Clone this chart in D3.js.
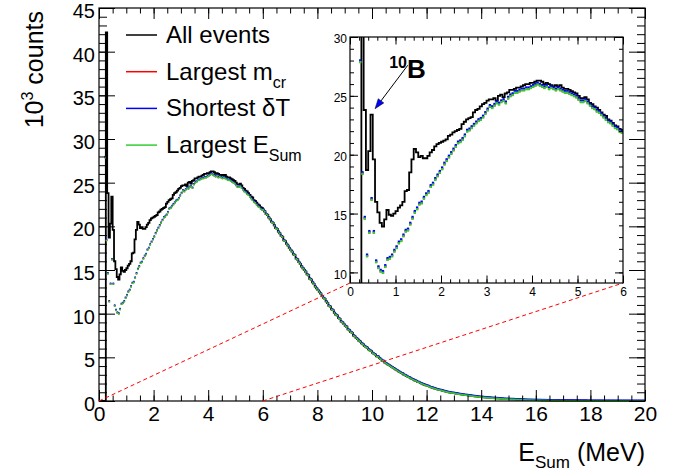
<!DOCTYPE html>
<html>
<head>
<meta charset="utf-8">
<script src="https://cdn.jsdelivr.net/npm/d3@7/dist/d3.min.js"></script>
<style>
  body { margin: 0; background: #fff; }
  text { font-family: "Liberation Sans", Arial, Helvetica, sans-serif; }
</style>
</head>
<body>
<svg id="chart" width="680" height="472"></svg>
<script>
// bins of 0.05 MeV from 0 to 20 MeV, values in 10^3 counts
var binWidth = 0.05;

var allEvents = [
  0,0,0,0,0, 42.2,23.8,18.7,20.3,23.4, 19.6,16.0,15.1,14.2,13.9, 14.5,15.3,14.9,14.8,15.0,
  15.2,15.5,15.7,16.0,16.9, 17.0,18.5,19.6,20.5,20.2, 19.8,19.9,19.7,19.7,19.9, 20.2,20.4,20.7,20.9,21.0,
  21.1,21.2,21.3,21.6,21.7, 21.9,22.0,22.1,22.2,22.6, 22.8,23.0,23.1,23.2,23.6, 23.8,23.9,24.1,24.3,24.4,
  24.6,24.7,24.7,24.8,24.6, 25.0,25.1,24.9,25.2,25.3, 25.5,25.5,25.6,25.7,25.7, 25.8,25.9,26.0,26.0,26.1,
  26.1,26.2,26.3,26.3,26.2, 26.0,26.1,26.0,25.9,25.8, 25.9,25.8,25.9,25.7,25.6, 25.6,25.5,25.4,25.3,25.2,
  25.0,24.8,24.8,24.9,24.7, 24.4,24.3,24.1,24.0,23.8, 23.6,23.4,23.3,23.0,22.9, 22.7,22.5,22.4,22.2,22.1,
  21.9,21.7,21.4,21.3,21.0, 20.8,20.5,20.4,20.1,19.8, 19.7,19.4,19.2,18.9,18.8, 18.4,18.3,18.0,17.8,17.5,
  17.3,17.1,16.8,16.7,16.3, 16.2,15.9,15.7,15.4,15.2, 15.0,14.8,14.5,14.4,14.0, 13.9,13.6,13.4,13.1,12.9,
  12.7,12.5,12.3,12.0,11.8, 11.7,11.4,11.2,10.9,10.8, 10.5,10.4,10.1,9.9,9.8, 9.5,9.4,9.1,9.0,8.8,
  8.6,8.5,8.2,8.1,7.9, 7.8,7.5,7.4,7.2,7.1, 6.9,6.8,6.6,6.5,6.3, 6.2,6.1,5.9,5.8,5.7,
  5.5,5.4,5.3,5.1,5.1, 4.9,4.8,4.6,4.6,4.4, 4.3,4.2,4.1,4.0,3.9, 3.8,3.7,3.6,3.5,3.4,
  3.3,3.2,3.15,3.0,2.95, 2.85,2.75,2.7,2.6,2.5, 2.45,2.35,2.3,2.2,2.15, 2.05,2.0,1.92,1.86,1.8,
  1.75,1.7,1.62,1.56,1.52, 1.45,1.41,1.35,1.31,1.28, 1.24,1.2,1.15,1.11,1.07, 1.03,1.0,0.97,0.94,0.92,
  0.9,0.86,0.84,0.81,0.78, 0.76,0.73,0.71,0.69,0.67, 0.65,0.63,0.61,0.58,0.56, 0.54,0.52,0.5,0.48,0.47,
  0.45,0.44,0.42,0.41,0.39, 0.38,0.37,0.35,0.34,0.33, 0.32,0.31,0.3,0.29,0.27, 0.26,0.25,0.24,0.23,0.23,
  0.22,0.21,0.2,0.2,0.19, 0.18,0.17,0.17,0.16,0.15, 0.15,0.14,0.14,0.13,0.12, 0.12,0.11,0.11,0.1,0.1,
  0.1,0.09,0.09,0.09,0.08, 0.08,0.08,0.07,0.07,0.07, 0.07,0.06,0.06,0.06,0.06, 0.05,0.05,0.05,0.05,0.05,
  0.05,0.05,0.04,0.04,0.04, 0.04,0.04,0.04,0.035,0.035, 0.035,0.03,0.03,0.03,0.03, 0.03,0.03,0.025,0.025,0.025,
  0.025,0.02,0.02,0.02,0.02, 0.02,0.02,0.02,0.018,0.018, 0.016,0.016,0.015,0.015,0.014, 0.014,0.013,0.013,0.012,0.012,
  0.012,0.011,0.011,0.01,0.01, 0.01,0.01,0.009,0.009,0.009, 0.008,0.008,0.008,0.007,0.007, 0.007,0.006,0.006,0.006,0.005
];

// selected pair (m_cr / deltaT / E_Sum give the same spectrum), 0-6 MeV
var selectedLow = [
  null,null,null,null,27.9, 18.4,14.6,11.4,13.4,16.2, 13.4,10.9,10.4,10.1,10.0, 10.5,11.1,11.2,11.4,11.8,
  12.1,12.5,12.7,13.1,13.5, 13.6,14.1,14.6,15.1,15.4, 15.8,15.9,16.3,16.6,16.8, 17.3,17.5,17.9,18.2,18.5,
  18.8,19.2,19.5,19.8,20.1, 20.4,20.7,21.0,21.1,21.3, 21.6,22.0,22.1,22.3,22.5, 22.7,22.9,23.0,23.2,23.5,
  23.8,24.1,24.0,24.2,24.4, 24.3,24.5,24.6,24.4,24.8, 25.0,25.1,25.3,25.3,25.4, 25.5,25.5,25.6,25.6,25.7,
  25.8,25.9,26.0,25.9,25.8, 25.7,25.8,25.6,25.7,25.6, 25.5,25.6,25.5,25.4,25.3, 25.3,25.2,25.1,25.0,24.9,
  24.7,24.5,24.5,24.6,24.4, 24.2,24.0,23.9,23.7,23.6, 23.4,23.2,23.0,22.8,22.7, 22.5,22.3,22.2,22.0,21.9
];
// above 6 MeV the selections lie on top of the all-events histogram
var selected = selectedLow.concat(allEvents.slice(selectedLow.length));

var xMajor = [0,2,4,6,8,10,12,14,16,18,20];
var yMajor = [0,5,10,15,20,25,30,35,40,45];
var insetXMajor = [0,1,2,3,4,5,6];
var insetYMajor = [10,15,20,25,30];

var legendNames = ["All events", "Largest m", "Shortest \u03b4T", "Largest E"];
var legendSubs = ["", "cr", "", "Sum"];
var legendColors = ["#000000", "#ff0000", "#0000ff", "#33cc33"];

var svg = d3.select("#chart");

var x = d3.scaleLinear().domain([0, 20]).range([99, 645]);
var y = d3.scaleLinear().domain([0, 45]).range([401, 8]);
var ix = d3.scaleLinear().domain([0, 6]).range([350, 623]);
var iy = d3.scaleLinear().domain([9.1, 30]).range([283, 37]);

function histPoints(vals, n) {
  var pts = [];
  for (var k = 0; k < n; k++) pts.push([k * binWidth, vals[k]]);
  pts.push([n * binWidth, vals[n - 1]]);
  return pts;
}

function drawFrame(g, sx, sy, major, minor, xMaj, xMin, yMaj, yMin, fontX, fontY, xPad, yPad) {
  var x0 = sx.range()[0], x1 = sx.range()[1], y0 = sy.range()[0], y1 = sy.range()[1];
  function style(fs) {
    return function(a) {
      a.select(".domain").remove();
      a.selectAll("line").attr("stroke", "#000").attr("stroke-width", 1);
      a.selectAll("text").attr("font-size", fs).attr("font-family", null).attr("fill", "#000");
    };
  }
  g.append("g").attr("transform", "translate(0," + y0 + ")")
    .call(d3.axisBottom(sx).tickValues(xMin).tickSize(-minor[0]).tickFormat("")).call(style(fontX));
  g.append("g").attr("transform", "translate(0," + y0 + ")")
    .call(d3.axisBottom(sx).tickValues(xMaj).tickSize(-major[0]).tickPadding(xPad).tickFormat(d3.format("d"))).call(style(fontX));
  g.append("g").attr("transform", "translate(0," + y1 + ")")
    .call(d3.axisTop(sx).tickValues(xMin).tickSize(-minor[0]).tickFormat("")).call(style(fontX));
  g.append("g").attr("transform", "translate(0," + y1 + ")")
    .call(d3.axisTop(sx).tickValues(xMaj).tickSize(-major[0]).tickFormat("")).call(style(fontX));
  g.append("g").attr("transform", "translate(" + x0 + ",0)")
    .call(d3.axisLeft(sy).tickValues(yMin).tickSize(-minor[1]).tickFormat("")).call(style(fontY));
  g.append("g").attr("transform", "translate(" + x0 + ",0)")
    .call(d3.axisLeft(sy).tickValues(yMaj).tickSize(-major[1]).tickPadding(yPad).tickFormat(d3.format("d"))).call(style(fontY))
    .selectAll("text").attr("dy", "0.48em");
  g.append("g").attr("transform", "translate(" + x1 + ",0)")
    .call(d3.axisRight(sy).tickValues(yMin).tickSize(-minor[1]).tickFormat("")).call(style(fontY));
  g.append("g").attr("transform", "translate(" + x1 + ",0)")
    .call(d3.axisRight(sy).tickValues(yMaj).tickSize(-major[1]).tickFormat("")).call(style(fontY));
  g.append("rect").attr("x", x0).attr("y", y1).attr("width", x1 - x0).attr("height", y0 - y1)
    .attr("fill", "none").attr("stroke", "#000").attr("stroke-width", 1.2);
}

function drawMarkers(g, sx, sy, n, size, lift) {
  var offs = [0, -lift, 0.3 * lift];
  var cols = ["#ff0000", "#0000ff", "#33cc33"];
  var pts = [];
  for (var k = 0; k < n; k++) if (selected[k] != null) pts.push([k * binWidth + binWidth / 2, selected[k]]);
  cols.forEach(function(c, i) {
    g.append("g").selectAll("rect").data(pts).enter().append("rect")
      .attr("x", function(d) { return sx(d[0]) - size / 2; })
      .attr("y", function(d) { return sy(d[1]) - size / 2 + offs[i]; })
      .attr("width", size).attr("height", size)
      .attr("fill", c);
  });
}

// ---- main pad ----
var main = svg.append("g");
var nAll = allEvents.length;

main.append("path")
  .attr("d", d3.line().x(function(d) { return x(d[0]); }).y(function(d) { return y(d[1]); })
    .curve(d3.curveStepAfter)(histPoints(allEvents, nAll)))
  .attr("fill", "none").attr("stroke", "#000").attr("stroke-width", 1.8);

drawMarkers(main, x, y, nAll, 1.7, 0.6);

drawFrame(main, x, y, [11, 16], [5.5, 8],
  xMajor, d3.range(0, 20.01, 0.5), yMajor, d3.range(0, 45.01, 1), 21, 20, 5, 4);

// zoom guide lines
var guides = [[[0, 0], [ix.domain()[0], iy.domain()[0]]], [[6, 0], [ix.domain()[1], iy.domain()[0]]]];
main.selectAll(".guide").data(guides).enter().append("line")
  .attr("x1", function(d) { return x(d[0][0]); }).attr("y1", function(d) { return y(d[0][1]); })
  .attr("x2", function(d) { return ix(d[1][0]); }).attr("y2", function(d) { return iy(d[1][1]); })
  .attr("stroke", "#ff0000").attr("stroke-width", 1).attr("stroke-dasharray", "4,3");

// axis titles
var yt = svg.append("text").attr("transform", "translate(43,11) rotate(-90)")
  .attr("text-anchor", "end").attr("font-size", 25);
yt.append("tspan").text("10");
yt.append("tspan").attr("font-size", 16).attr("dy", -10).text("3");
yt.append("tspan").attr("dy", 10).text(" counts");

var xt = svg.append("text").attr("x", 645).attr("y", 461)
  .attr("text-anchor", "end").attr("font-size", 25);
xt.append("tspan").text("E");
xt.append("tspan").attr("font-size", 17).attr("dy", 7).text("Sum");
xt.append("tspan").attr("dy", -7).text(" (MeV)");

// legend
var leg = svg.append("g").selectAll("g").data(legendNames).enter().append("g")
  .attr("transform", function(d, i) { return "translate(126," + (43 + i * 36.7) + ")"; });
leg.append("line").attr("x1", 0).attr("x2", 31).attr("y1", -8).attr("y2", -8)
  .attr("stroke", function(d, i) { return legendColors[i]; }).attr("stroke-width", 1.5);
var lt = leg.append("text").attr("x", 40).attr("font-size", 24);
lt.append("tspan").text(function(d) { return d; });
lt.append("tspan").attr("font-size", 16).attr("dy", 8).text(function(d, i) { return legendSubs[i]; });

// ---- inset pad ----
var inset = svg.append("g");
inset.append("rect").attr("x", 350).attr("y", 37).attr("width", 273).attr("height", 246).attr("fill", "#fff");
inset.append("clipPath").attr("id", "insetClip").append("rect")
  .attr("x", 350).attr("y", 37).attr("width", 273).attr("height", 246);
var inner = inset.append("g").attr("clip-path", "url(#insetClip)");
var nIn = Math.round(6 / binWidth);

inner.append("path")
  .attr("d", d3.line().x(function(d) { return ix(d[0]); }).y(function(d) { return iy(d[1]); })
    .curve(d3.curveStepAfter)(histPoints(allEvents, nIn)))
  .attr("fill", "none").attr("stroke", "#000").attr("stroke-width", 1.8);

drawMarkers(inner, ix, iy, nIn, 2.3, 1.3);

drawFrame(inset, ix, iy, [7.5, 8], [3.7, 4],
  insetXMajor, d3.range(0, 6.01, 0.2), insetYMajor, d3.range(10, 30.01, 1), 12, 12, 4, 3);

// 10B annotation
var tip = [0.55, 23.9], tail = [1.27, 27.6];
var ax1 = ix(tail[0]), ay1 = iy(tail[1]), ax2 = ix(tip[0]), ay2 = iy(tip[1]);
var ang = Math.atan2(ay2 - ay1, ax2 - ax1);
inset.append("line").attr("x1", ax1).attr("y1", ay1)
  .attr("x2", ax2 - 8 * Math.cos(ang)).attr("y2", ay2 - 8 * Math.sin(ang))
  .attr("stroke", "#000").attr("stroke-width", 1);
var hl = 10, hw = 3.5;
var bx = ax2 - hl * Math.cos(ang), by = ay2 - hl * Math.sin(ang);
inset.append("path")
  .attr("d", "M" + ax2 + "," + ay2 +
    "L" + (bx - hw * Math.sin(ang)) + "," + (by + hw * Math.cos(ang)) +
    "L" + (bx + hw * Math.sin(ang)) + "," + (by - hw * Math.cos(ang)) + "Z")
  .attr("fill", "#0000ff").attr("stroke", "#000").attr("stroke-width", 0.5);

var bt = inset.append("text").attr("x", ix(0.86)).attr("y", iy(26.5)).attr("font-weight", "bold");
bt.append("tspan").attr("font-size", 16).attr("dy", -10).text("10");
bt.append("tspan").attr("font-size", 26).attr("dy", 10).text("B");
</script>
</body>
</html>
